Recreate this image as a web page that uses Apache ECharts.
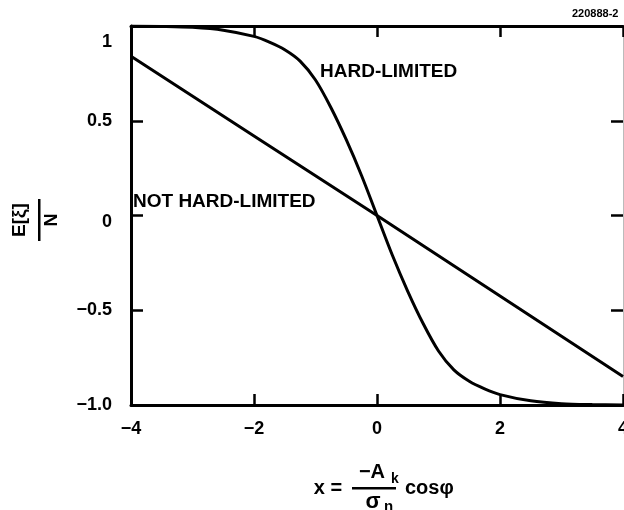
<!DOCTYPE html>
<html>
<head>
<meta charset="utf-8">
<script src="https://cdn.jsdelivr.net/npm/echarts@6/dist/echarts.min.js"></script>
<style>
html,body{margin:0;padding:0;background:#fff;overflow:hidden;}
#c{width:624px;height:510px;}
</style>
</head>
<body>
<div id="c"></div>
<script>
var xTicks = [-4, -2, 0, 2, 4];
var yTickLabels = {'1': '1', '0.5': '0.5', '0': '0', '-0.5': '\u22120.5', '-1': '\u22121.0'};
var xTickLabels = {'-4': '\u22124', '-2': '\u22122', '0': '0', '2': '2', '4': '4'};

var hardX = [-4, -3.5, -3, -2.5, -2, -1.75, -1.5, -1.25, -1, -0.75, -0.5, -0.25, 0, 0.25, 0.5, 0.75, 1, 1.25, 1.5, 1.75, 2, 2.5, 3, 3.5, 4];
var hardY = [1.0, 0.998, 0.993, 0.978, 0.945, 0.915, 0.875, 0.815, 0.715, 0.57, 0.40, 0.21, 0, -0.21, -0.40, -0.57, -0.715, -0.815, -0.875, -0.915, -0.945, -0.978, -0.993, -0.998, -1.0];

var notHardX = [-4, -2, 0, 2, 4];
var notHardY = [0.84, 0.42, 0, -0.425, -0.85];

function pairs(xs, ys) { return xs.map(function (x, i) { return [x, ys[i]]; }); }

var chart = echarts.init(document.getElementById('c'));
var FONT = '"Liberation Sans", Arial, sans-serif';

chart.setOption({
  animation: false,
  backgroundColor: '#fff',
  grid: { left: 131, right: 1, top: 26, bottom: 105, containLabel: false, outerBoundsMode: 'none' },
  xAxis: [{
    type: 'value', min: -4, max: 4, interval: 2, position: 'bottom',
    axisLine: { show: true, onZero: false, lineStyle: { color: '#000', width: 3 } },
    axisTick: { show: true, inside: true, length: 11, lineStyle: { color: '#000', width: 2.5 } },
    splitLine: { show: false },
    axisLabel: {
      margin: 15, color: '#000', fontSize: 18, fontWeight: 'bold', fontFamily: FONT,
      hideOverlap: false,
      formatter: function (v) { return xTickLabels[String(v)]; }
    }
  }, {
    type: 'value', min: -4, max: 4, interval: 2, position: 'top',
    axisLine: { show: true, onZero: false, lineStyle: { color: '#000', width: 3 } },
    axisTick: { show: true, inside: true, length: 11, lineStyle: { color: '#000', width: 2.5 } },
    splitLine: { show: false },
    axisLabel: { show: false }
  }],
  yAxis: [{
    type: 'value', min: -1, max: 1, interval: 0.5, position: 'left',
    axisLine: { show: true, onZero: false, lineStyle: { color: '#000', width: 3 } },
    axisTick: { show: true, inside: true, length: 12, lineStyle: { color: '#000', width: 2.5 } },
    splitLine: { show: false },
    axisLabel: {
      margin: 19, color: '#000', fontSize: 18, fontWeight: 'bold', fontFamily: FONT,
      formatter: function (v) {
        var s = yTickLabels[String(v)];
        if (v === 1) return '{lo|' + s + '}';
        if (v === 0) return '{z|' + s + '}';
        return s;
      },
      rich: {
        lo: { fontSize: 18, fontWeight: 'bold', fontFamily: FONT, color: '#000', padding: [32, 0, 0, 0] },
        z: { fontSize: 18, fontWeight: 'bold', fontFamily: FONT, color: '#000', padding: [14, 0, 0, 0] }
      }
    }
  }, {
    type: 'value', min: -1, max: 1, interval: 0.5, position: 'right',
    axisLine: { show: true, onZero: false, lineStyle: { color: '#bbb', width: 1 } },
    axisTick: { show: true, inside: true, length: 12, lineStyle: { color: '#000', width: 2.5 } },
    splitLine: { show: false },
    axisLabel: { show: false }
  }],
  series: [{
    name: 'HARD-LIMITED', type: 'line', smooth: 0.3, symbol: 'none',
    data: pairs(hardX, hardY),
    lineStyle: { color: '#000', width: 3 }
  }, {
    name: 'NOT HARD-LIMITED', type: 'line', symbol: 'none',
    data: pairs(notHardX, notHardY),
    lineStyle: { color: '#000', width: 3 }
  }],
  graphic: [
    { type: 'text', left: 320, top: 62, style: { text: 'HARD-LIMITED', fontSize: 19, fontWeight: 'bold', fontFamily: FONT, fill: '#000' } },
    { type: 'text', left: 133, top: 192, style: { text: 'NOT HARD-LIMITED', fontSize: 19, fontWeight: 'bold', fontFamily: FONT, fill: '#000' } },
    { type: 'text', x: 572, y: 8, style: { text: '220888-2', fontSize: 11, fontWeight: 'bold', fontFamily: FONT, fill: '#000' } },
    {
      type: 'group', x: 32, y: 220, rotation: Math.PI / 2,
      children: [
        { type: 'text', x: 0, y: -12, style: { text: 'E[\u03be]', fontSize: 19, fontWeight: 'bold', fontFamily: FONT, fill: '#000', align: 'center', verticalAlign: 'middle' } },
        { type: 'rect', shape: { x: -21, y: 6, width: 42, height: 2.5 }, style: { fill: '#000' } },
        { type: 'text', x: 0, y: 20, style: { text: 'N', fontSize: 18, fontWeight: 'bold', fontFamily: FONT, fill: '#000', align: 'center', verticalAlign: 'middle' } }
      ]
    },
    { type: 'text', x: 328, y: 488, style: { text: 'x =', fontSize: 20, fontWeight: 'bold', fontFamily: FONT, fill: '#000', align: 'center', verticalAlign: 'middle' } },
    { type: 'text', x: 372, y: 472, style: { text: '\u2212A', fontSize: 20, fontWeight: 'bold', fontFamily: FONT, fill: '#000', align: 'center', verticalAlign: 'middle' } },
    { type: 'text', x: 391, y: 479, style: { text: 'k', fontSize: 14, fontWeight: 'bold', fontFamily: FONT, fill: '#000', align: 'left', verticalAlign: 'middle' } },
    { type: 'rect', shape: { x: 352, y: 487, width: 44, height: 2.5 }, style: { fill: '#000' } },
    { type: 'text', x: 373, y: 502, style: { text: '\u03c3', fontSize: 22, fontWeight: 'bold', fontFamily: FONT, fill: '#000', align: 'center', verticalAlign: 'middle' } },
    { type: 'text', x: 384, y: 507, style: { text: 'n', fontSize: 15, fontWeight: 'bold', fontFamily: FONT, fill: '#000', align: 'left', verticalAlign: 'middle' } },
    { type: 'text', x: 405, y: 488, style: { text: 'cos\u03c6', fontSize: 20, fontWeight: 'bold', fontFamily: FONT, fill: '#000', align: 'left', verticalAlign: 'middle' } }
  ]
});
</script>
</body>
</html>
